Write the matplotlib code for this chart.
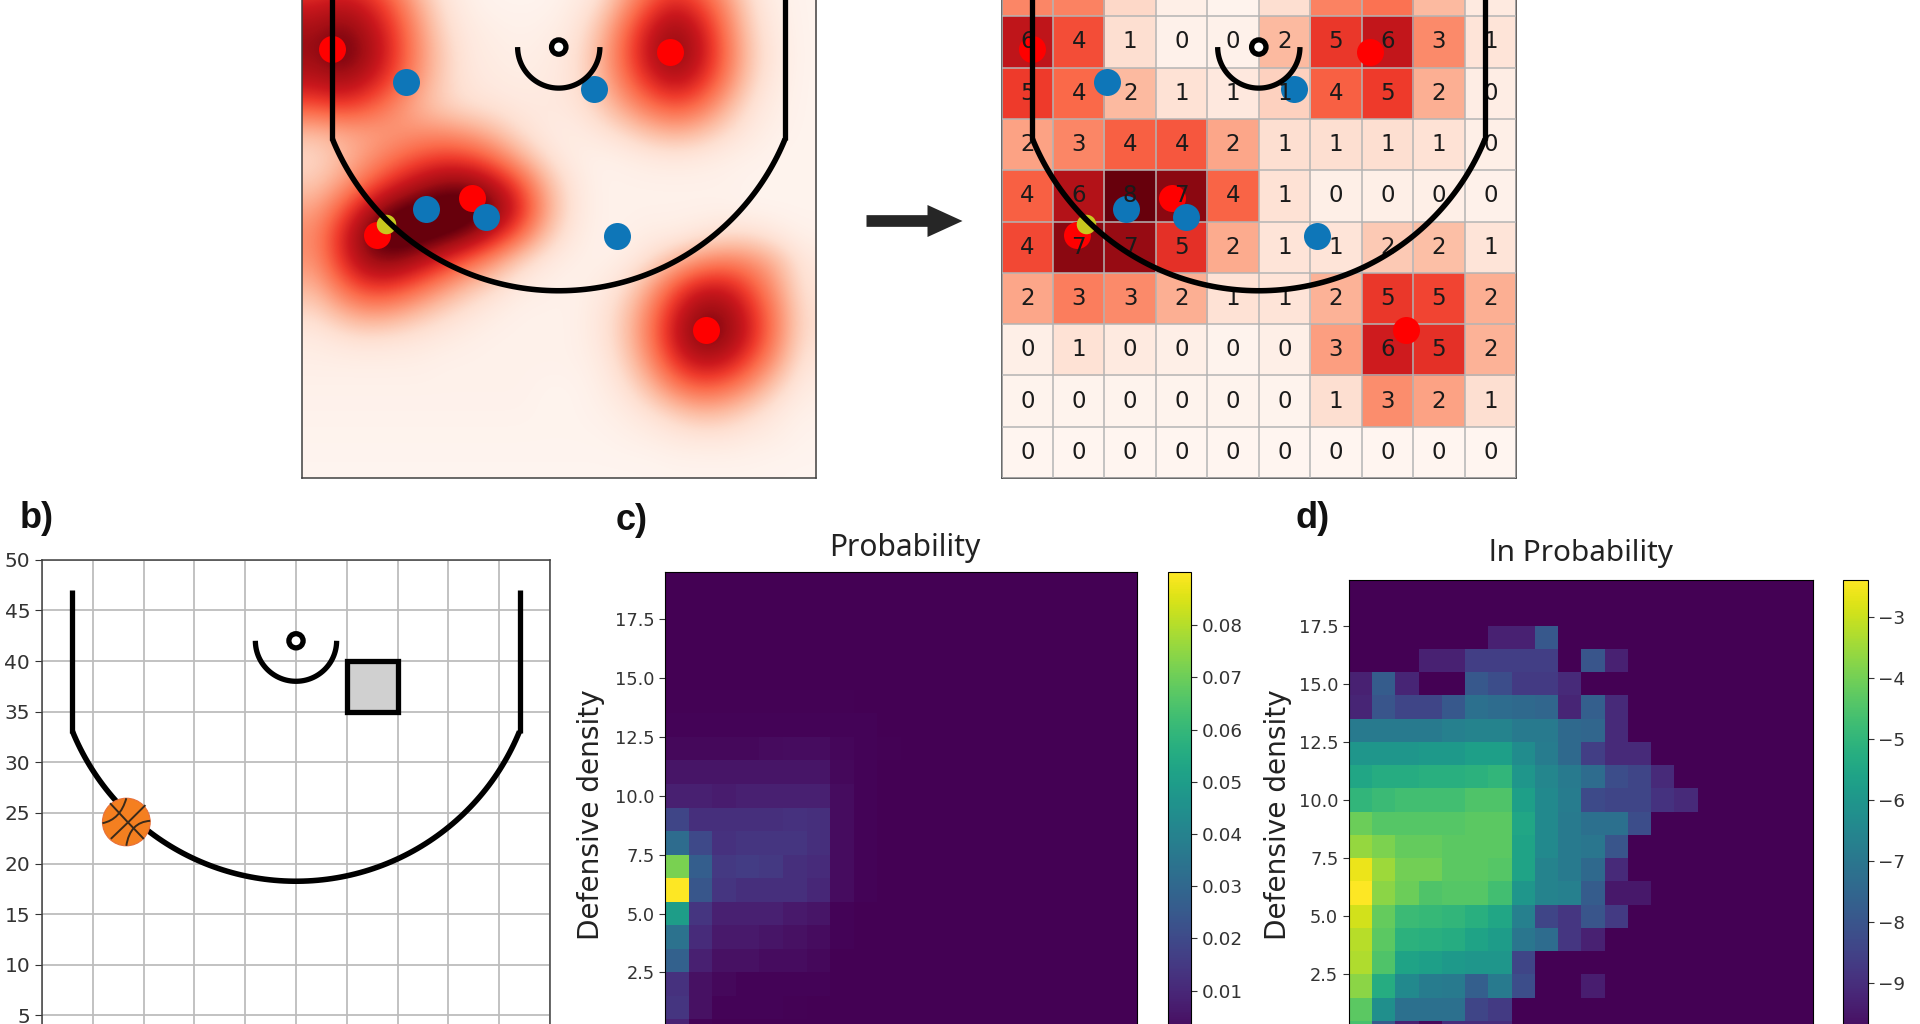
import numpy as np
import matplotlib
matplotlib.use("Agg")
import matplotlib.pyplot as plt
import matplotlib.patches as mpatches
from matplotlib.path import Path
from matplotlib.transforms import IdentityTransform

W, H = 1920, 1024

# Player positions read from the court (data units)
offense_x = [3.0, 35.8, 16.6, 7.3, 39.3]
offense_y = [41.8, 41.5, 27.3, 23.7, 14.4]
defense_x = [10.2, 28.4, 12.1, 17.9, 30.7]
defense_y = [38.6, 37.9, 26.2, 25.4, 23.6]
ball_holder = (8.25, 24.8)

# Smooth density, 2.5-unit cells, rows from y=0 upward
density_rows = [
 [.05,.05,.05,.05,.05,.05,.05,.05,.05,.05,.05,.05,.05,.05,.1,.1,.1,.1,.05,.05],
 [.1,.1,.1,.1,.1,.1,.1,.1,.1,.1,.1,.1,.2,.3,.5,.6,.6,.4,.3,.1],
 [.15,.15,.15,.15,.15,.15,.15,.15,.15,.1,.1,.2,.4,.8,1.4,1.9,1.7,1.1,.5,.2],
 [.2,.2,.2,.2,.2,.2,.2,.2,.2,.1,.1,.3,.8,1.9,3.4,4.2,3.8,2.7,1.3,.4],
 [.3,.3,.3,.3,.3,.2,.2,.2,.2,.2,.2,.4,1.3,3,5.2,6.4,6,4.4,2.5,.7],
 [.5,.8,1,.9,.7,.5,.3,.2,.2,.2,.2,.6,1.6,3.6,6.2,7.8,7.4,5.6,3.2,1],
 [1.2,2.2,2.9,2.7,2,1.3,.8,.4,.2,.2,.2,.6,1.5,3.4,5.8,7.4,7.2,5.4,3.2,1],
 [2.2,3.9,5.2,5.2,4.2,3,1.9,1.2,.5,.3,.2,.4,1,2.4,4.4,5.8,5.8,4.4,2.6,.8],
 [3,5.2,7.2,7.6,6.8,5.6,4.2,2.8,1.4,.6,.3,.2,.4,1,2,3,3.4,3,2,.6],
 [3.2,5.4,7.8,8.8,8.8,8.4,7.6,6,4,1.8,.6,.2,.2,.4,.4,.7,1,1,.5,.2],
 [2.6,4.2,6.4,8,8.6,8.8,8.8,7.8,5.6,2.6,.8,.2,.2,.2,.2,.2,.2,.1,.1,.1],
 [1.6,2.6,4,5.4,6.6,7.4,7.4,6.4,4.5,2.1,.7,.2,.2,.2,.2,.2,.2,.1,.1,.1],
 [1.2,1.9,2.8,3.7,4.5,5,4.8,3.8,2.3,1,.4,.2,.3,.5,.6,.5,.3,.2,.1,.1],
 [2,2.4,2.6,2.8,3,3,2.6,1.9,1,.5,.4,.7,1.2,1.9,2.3,1.9,1.1,.5,.2,.1],
 [4.5,5,4.5,3.4,2.2,1.4,1,.8,.6,.6,.7,1.4,2.6,3.8,4.5,3.8,2.2,.8,.3,.1],
 [6.4,7,6.2,4.8,2.9,1.4,.7,.5,.4,.5,.8,1.9,3.7,5.5,6.5,5.5,3.4,1.3,.4,.1],
 [7.2,8,7.2,5.4,3.2,1.5,.6,.4,.3,.4,.8,2,4.2,6.4,7.6,6.3,3.9,1.5,.5,.1],
 [7,7.6,6.8,5.2,3,1.2,.5,.3,.2,.3,.6,1.7,3.8,6,7.2,6,3.6,1.3,.4,.1],
 [5.8,6.4,5.8,4.4,2.4,.9,.3,.1,.1,.1,.4,1,2.7,4.6,5.8,4.8,3,1,.3,.1],
 [4.4,4.8,4.4,3.2,1.6,.6,.2,.1,.1,.1,.2,.6,2,3.4,4.2,3.6,2.1,.7,.2,.1],
]

# Panel a, discretised grid: printed counts and cell shades, rows from y=0 upward
grid_counts = [
 [0,0,0,0,0,0,0,0,0,0],
 [0,0,0,0,0,0,1,3,2,1],
 [0,1,0,0,0,0,3,6,5,2],
 [2,3,3,2,1,1,2,5,5,2],
 [4,7,7,5,2,1,1,2,2,1],
 [4,6,8,7,4,1,0,0,0,0],
 [2,3,4,4,2,1,1,1,1,0],
 [5,4,2,1,1,1,4,5,2,0],
 [6,4,1,0,0,2,5,6,3,1],
]
grid_shade = [
 [0,0,0,0,0,0,0,0,0,0],
 [.1,.1,.1,.1,.1,.1,1,3.1,2.6,1],
 [.3,.9,.5,.3,.1,.3,2.7,5.9,5.3,2.2],
 [2.5,3.5,3.2,2.3,.9,.8,2.2,5.1,4.8,2.3],
 [4.7,7.4,7.2,5.3,2.4,.8,.8,1.6,1.9,.8],
 [4.2,6.6,8,7.4,4.1,.9,.3,.3,.3,.2],
 [2.6,3.3,4.2,4.4,2.5,1,1,1,.9,.3],
 [5,4,2,.9,.6,1.4,4.2,5,2.3,.4],
 [6.3,4.6,1,.2,.2,2,5.1,6.2,3.2,.8],
 [3.3,3.4,1.2,.3,.1,1,3.4,3.8,2,.5],
]

# Panel c: probability, rows r=0 upward, remaining columns are empty
prob_rows = [
 [.009,.001],
 [.014,.004,.001,.001,.001,.0005],
 [.013,.004,.002,.001,.001,.001,.001],
 [.028,.008,.004,.004,.003,.003,.002],
 [.034,.011,.006,.006,.005,.004,.003,.001],
 [.05,.014,.008,.008,.008,.006,.005,.001],
 [.09,.024,.014,.012,.012,.012,.010,.003,.001],
 [.072,.027,.015,.016,.015,.012,.011,.003,.001],
 [.032,.020,.013,.014,.014,.014,.012,.003,.001],
 [.019,.012,.012,.012,.012,.013,.012,.003,.001],
 [.008,.008,.007,.008,.008,.008,.008,.003,.001],
 [.005,.005,.005,.005,.005,.005,.005,.002,.001],
 [.002,.002,.002,.002,.0025,.003,.003,.0015,.001,.0005],
 [.001,.001,.001,.001,.001,.001,.001,.001,.001],
 [.0005,.0005,.0005,.0005,.0005,.0005,.0005,.0005],
 [.0003,.0003,.0003,.0003,.0003,.0003],
 [], [], [], [],
]

# Panel d: ln probability, rows r=0 upward, remaining columns sit at -10
ln_prob_rows = [
 [-4.6,-7.8,-9.3,-9.8,-9,-9,-9],
 [-4.3,-6.2,-7.2,-7.2,-7.2,-8.4,-8.7],
 [-3.7,-5.3,-6.4,-6.8,-6.9,-7.7,-6.9,-8.2,-10,-10,-9.4],
 [-3.3,-4.5,-5.6,-5.7,-5.9,-6.0,-6.0,-8.4],
 [-3.2,-4.3,-5.1,-5.2,-5.3,-5.6,-5.8,-7.0,-7.3,-8.8,-9.3],
 [-2.9,-4.2,-4.8,-4.9,-5.0,-5.2,-5.5,-6.7,-8.4,-8.8,-8.0,-8.7],
 [-2.41,-3.7,-4.1,-4.5,-4.4,-4.4,-4.7,-6.0,-6.6,-6.7,-7.8,-9.5,-9.5],
 [-2.6,-3.5,-4.0,-4.0,-4.3,-4.3,-4.4,-5.6,-6.6,-6.9,-7.4,-9.1],
 [-3.6,-3.9,-4.2,-4.2,-4.3,-4.3,-4.3,-5.6,-6.4,-6.9,-7.0,-8.0],
 [-4.1,-4.4,-4.4,-4.4,-4.4,-4.3,-4.3,-5.5,-6.4,-6.9,-7.2,-7.2,-8.2],
 [-5.0,-4.8,-4.7,-4.7,-4.7,-4.5,-4.5,-5.7,-6.4,-6.8,-8.3,-8.4,-8.4,-8.9,-9.1],
 [-5.5,-5.3,-5.3,-5.2,-5.2,-5.1,-5.0,-6.0,-6.5,-6.9,-7.3,-8.2,-8.4,-9.1],
 [-6.0,-6.0,-6.0,-5.9,-5.9,-5.7,-5.7,-6.3,-6.8,-7.4,-8.6,-9.1,-9.1],
 [-6.9,-6.9,-6.9,-6.9,-6.7,-6.6,-6.6,-6.9,-6.9,-7.4,-7.5,-9.1],
 [-9.2,-8.0,-8.4,-8.4,-7.9,-7.2,-7.3,-7.4,-7.5,-9.2,-7.7,-9.1],
 [-9.3,-7.8,-9.2,-10,-10,-7.9,-8.2,-8.7,-8.7,-9.1],
 [-10,-10,-10,-9.3,-9.3,-8.6,-8.6,-8.6,-8.6,-10,-8.0,-9.3],
 [-10,-10,-10,-10,-10,-10,-9.3,-9.3,-7.9],
 [], [],
]

y_ticks_heat = [2.5, 5.0, 7.5, 10.0, 12.5, 15.0, 17.5]
prob_ticks = [0.01, 0.02, 0.03, 0.04, 0.05, 0.06, 0.07, 0.08]
ln_ticks = [-9, -8, -7, -6, -5, -4, -3]
court_ticks = list(range(5, 55, 5))
NUM_COLS = 20


def pad(rows, fill):
    return np.array([list(r) + [fill] * (NUM_COLS - len(r)) for r in rows], float)


def axes_px(fig, left, right, top, bottom):
    return fig.add_axes([left / W, 1 - bottom / H, (right - left) / W, (bottom - top) / H])


def label_px(fig, x, y, s, **kw):
    fig.text(x / W, 1 - y / H, s, ha="center", va="center", **kw)


def draw_court(ax, z=6):
    t = np.linspace(np.arcsin(8.95 / 23.75), np.pi - np.arcsin(8.95 / 23.75), 120)
    ax.plot(25 + 23.75 * np.cos(t + np.pi), 42 + 23.75 * np.sin(t + np.pi), color="k", lw=4.0, zorder=z, solid_capstyle="butt")
    ax.plot([3, 3], [32.9, 47], color="k", lw=3.8, zorder=z, solid_capstyle="butt")
    ax.plot([47, 47], [32.9, 47], color="k", lw=3.8, zorder=z, solid_capstyle="butt")
    t2 = np.linspace(np.pi, 2 * np.pi, 60)
    ax.plot(25 + 4 * np.cos(t2), 42 + 4 * np.sin(t2), color="k", lw=3.8, zorder=z, solid_capstyle="butt")
    ax.add_patch(mpatches.Circle((25, 42), 0.7, fc="white", ec="k", lw=3.8, zorder=z))


def draw_players(ax):
    ax.scatter(offense_x, offense_y, s=378, color="#ff0000", lw=0, zorder=3)
    ax.scatter(defense_x, defense_y, s=378, color="#0e76b8", lw=0, zorder=4)
    ax.scatter(*ball_holder, s=198, color="#c8c81e", lw=0, zorder=4.5)


fig = plt.figure(figsize=(W / 100, H / 100), dpi=100, facecolor="white")
plt.rcParams["font.family"] = ["DejaVu Sans"]

# a) smooth map
ax = axes_px(fig, 301.5, 816, -35, 478)
ax.imshow(np.array(density_rows), origin="lower", extent=(0, 50, 0, 50), cmap="Reds", vmin=0, vmax=8,
          interpolation="bicubic", aspect="auto")
draw_court(ax)
draw_players(ax)
ax.set_xlim(0, 50); ax.set_ylim(0, 50)
ax.set_xticks([]); ax.set_yticks([])
for s in ax.spines.values():
    s.set_color("#404040"); s.set_linewidth(1.1)

# a) discretised map
ax = axes_px(fig, 1001.6, 1516, -35, 478)
ax.imshow(np.array(grid_shade), origin="lower", extent=(0, 50, 0, 50), cmap="Reds", vmin=0, vmax=8,
          interpolation="nearest", aspect="auto", zorder=1)
ax.set_xticks(range(0, 55, 5)); ax.set_yticks(range(0, 55, 5))
ax.tick_params(left=False, bottom=False, labelleft=False, labelbottom=False)
ax.grid(True, color="#b4b4b4", lw=1.1, zorder=2)
ax.set_axisbelow(False)
for gl in ax.get_xgridlines() + ax.get_ygridlines():
    gl.set_zorder(2)
draw_court(ax)
draw_players(ax)
for r, row in enumerate(grid_counts):
    for c, v in enumerate(row):
        ax.text(2.5 + 5 * c, 2.5 + 5 * r, str(v), ha="center", va="center", fontsize=16.5, color="#1a1a1a", zorder=5)
ax.set_xlim(0, 50); ax.set_ylim(0, 50)
for s in ax.spines.values():
    s.set_color("#404040"); s.set_linewidth(1.1)

# Arrow between the two maps
fig.add_artist(mpatches.FancyArrow(866.5, H - 221, 96, 0, width=11.7, head_width=32, head_length=35,
                                   length_includes_head=True, color="#262626", lw=0,
                                   transform=IdentityTransform()))

# b) court with grid
ax = axes_px(fig, 42, 550, 559.8, 1066)
ax.set_xlim(0, 50); ax.set_ylim(0, 50)
ax.set_xticks(range(0, 55, 5)); ax.set_yticks(court_ticks)
ax.tick_params(axis="y", labelsize=14.5, length=5, colors="#333333")
ax.tick_params(axis="x", labelbottom=False)
ax.grid(True, color="#bdbdbd", lw=1.3)
ax.set_axisbelow(True)
draw_court(ax)
ax.add_patch(mpatches.Rectangle((30, 35), 5, 5, fc="#d0d0d0", ec="k", lw=3.8, zorder=5))
bx, by, brx, bry = 8.3, 24.1, 2.35, 2.35
ax.add_patch(mpatches.Ellipse((bx, by), 2 * brx, 2 * bry, fc="#f47f20", ec="#e8703a", lw=0.8, zorder=7))
seams = [
    [(-0.68, 0.79), (0.0, 0.05), (0.73, -0.71)],
    [(-0.65, -0.71), (0.1, 0.0), (0.8, 0.71)],
    [(-1.0, -0.05), (-0.25, 0.1), (0.0, 1.0)],
    [(1.0, 0.05), (0.15, 0.0), (0.0, -1.0)],
]
for s in seams:
    verts = [(bx + brx * a, by + bry * b) for a, b in s]
    ax.add_patch(mpatches.PathPatch(Path(verts, [Path.MOVETO, Path.CURVE3, Path.CURVE3]), fc="none",
                                    ec="#3a2a1a", lw=1.4, zorder=8))
for s in ax.spines.values():
    s.set_color("#404040"); s.set_linewidth(1.1)

# c) and d) heat maps
for (arr, vmin, vmax, l, r, t, b, cl, cr, cticks) in [
    (pad(prob_rows, 0.0), 0.0, 0.0901, 665.4, 1136.8, 572.4, 1042.9, 1167.6, 1191.4, prob_ticks),
    (pad(ln_prob_rows, -10.0), -10.0, -2.39, 1348.7, 1813.2, 579.6, 1043.8, 1843.2, 1867.5, ln_ticks),
]:
    ax = axes_px(fig, l, r, t, b)
    im = ax.imshow(arr, origin="lower", cmap="viridis", vmin=vmin, vmax=vmax, aspect="auto", interpolation="nearest")
    ax.set_yticks(y_ticks_heat)
    ax.set_xticks([])
    ax.tick_params(axis="y", labelsize=12.8, length=4, colors="#333333")
    cax = axes_px(fig, cl, cr, t, b)
    cb = fig.colorbar(im, cax=cax)
    cb.set_ticks(cticks)
    cax.tick_params(labelsize=13.2, length=4, colors="#333333")

label_px(fig, 591, 815, "Defensive density", fontsize=20.2, rotation=90, color="#222222")
label_px(fig, 1277.5, 815, "Defensive density", fontsize=20.2, rotation=90, color="#222222")
label_px(fig, 905, 548, "Probability", fontsize=21.6, family="Noto Sans", color="#222222")
label_px(fig, 1581, 554, "ln Probability", fontsize=21.4, family="Noto Sans", color="#222222")
for x, y, s in [(37, 518, "b)"), (632, 520, "c)"), (1313, 518, "d)")]:
    label_px(fig, x, y, s, fontsize=26, fontweight="bold", family="Liberation Sans", color="#111111")

fig.savefig("out.png", dpi=100)
